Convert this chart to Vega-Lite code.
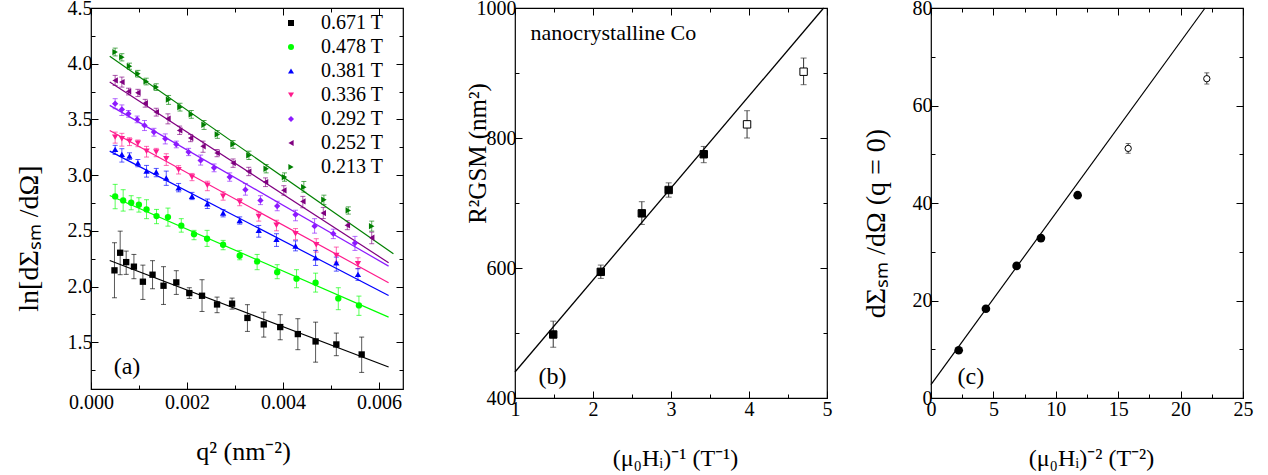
{
"$schema": "https://vega.github.io/schema/vega-lite/v6.json",
"padding": {"left": 14, "top": -3, "right": 0, "bottom": 0},
"background": "white",
"config": {
  "font": "Liberation Serif",
  "view": {"stroke": "black", "strokeWidth": 1.2},
  "axis": {"labelFont": "Liberation Serif", "titleFont": "Liberation Serif", "labelFontSize": 20, "titleFontSize": 24, "labelColor": "black", "titleColor": "black", "tickColor": "black", "grid": false, "domain": false, "titleFontWeight": "normal", "labelOverlap": false, "labelFlush": false, "tickWidth": 1},
  "legend": {"labelFont": "Liberation Serif", "labelFontSize": 20, "labelColor": "black", "padding": 0}
},
"datasets": {
  "apts": [
    {"s":"0.671 T","q":0.000489,"v":2.145,"lo":1.899,"hi":2.393},
    {"s":"0.671 T","q":0.000608,"v":2.303,"lo":2.106,"hi":2.497},
    {"s":"0.671 T","q":0.000733,"v":2.219,"lo":2.109,"hi":2.318},
    {"s":"0.671 T","q":0.000894,"v":2.178,"lo":2.070,"hi":2.288},
    {"s":"0.671 T","q":0.001081,"v":2.043,"lo":1.884,"hi":2.192},
    {"s":"0.671 T","q":0.001282,"v":2.106,"lo":1.980,"hi":2.232},
    {"s":"0.671 T","q":0.001511,"v":2.007,"lo":1.839,"hi":2.178},
    {"s":"0.671 T","q":0.001777,"v":2.037,"lo":1.929,"hi":2.142},
    {"s":"0.671 T","q":0.002048,"v":1.941,"lo":1.893,"hi":1.989},
    {"s":"0.671 T","q":0.002313,"v":1.917,"lo":1.776,"hi":2.061},
    {"s":"0.671 T","q":0.002626,"v":1.839,"lo":1.765,"hi":1.905},
    {"s":"0.671 T","q":0.002939,"v":1.846,"lo":1.797,"hi":1.896},
    {"s":"0.671 T","q":0.003259,"v":1.718,"lo":1.597,"hi":1.837},
    {"s":"0.671 T","q":0.003599,"v":1.660,"lo":1.546,"hi":1.770},
    {"s":"0.671 T","q":0.003942,"v":1.636,"lo":1.522,"hi":1.747},
    {"s":"0.671 T","q":0.004309,"v":1.573,"lo":1.433,"hi":1.711},
    {"s":"0.671 T","q":0.004679,"v":1.507,"lo":1.321,"hi":1.680},
    {"s":"0.671 T","q":0.005111,"v":1.480,"lo":1.379,"hi":1.582},
    {"s":"0.671 T","q":0.005639,"v":1.390,"lo":1.229,"hi":1.546},
    {"s":"0.478 T","q":0.000503,"v":2.809,"lo":2.698,"hi":2.917},
    {"s":"0.478 T","q":0.000670,"v":2.773,"lo":2.677,"hi":2.869},
    {"s":"0.478 T","q":0.000837,"v":2.752,"lo":2.689,"hi":2.815},
    {"s":"0.478 T","q":0.000998,"v":2.734,"lo":2.668,"hi":2.797},
    {"s":"0.478 T","q":0.001157,"v":2.692,"lo":2.609,"hi":2.779},
    {"s":"0.478 T","q":0.001365,"v":2.632,"lo":2.564,"hi":2.692},
    {"s":"0.478 T","q":0.001603,"v":2.623,"lo":2.542,"hi":2.704},
    {"s":"0.478 T","q":0.001881,"v":2.546,"lo":2.488,"hi":2.609},
    {"s":"0.478 T","q":0.002146,"v":2.470,"lo":2.420,"hi":2.504},
    {"s":"0.478 T","q":0.002418,"v":2.429,"lo":2.360,"hi":2.504},
    {"s":"0.478 T","q":0.002752,"v":2.375,"lo":2.330,"hi":2.414},
    {"s":"0.478 T","q":0.003098,"v":2.276,"lo":2.240,"hi":2.324},
    {"s":"0.478 T","q":0.003461,"v":2.225,"lo":2.151,"hi":2.288},
    {"s":"0.478 T","q":0.003879,"v":2.129,"lo":2.070,"hi":2.196},
    {"s":"0.478 T","q":0.004282,"v":2.070,"lo":1.989,"hi":2.151},
    {"s":"0.478 T","q":0.004679,"v":2.034,"lo":1.950,"hi":2.120},
    {"s":"0.478 T","q":0.005152,"v":1.893,"lo":1.792,"hi":1.989},
    {"s":"0.478 T","q":0.005582,"v":1.830,"lo":1.741,"hi":1.914},
    {"s":"0.381 T","q":0.000503,"v":3.231,"lo":3.186,"hi":3.267},
    {"s":"0.381 T","q":0.000643,"v":3.186,"lo":3.117,"hi":3.237},
    {"s":"0.381 T","q":0.000802,"v":3.171,"lo":3.140,"hi":3.200},
    {"s":"0.381 T","q":0.000977,"v":3.108,"lo":3.075,"hi":3.140},
    {"s":"0.381 T","q":0.001157,"v":3.036,"lo":2.982,"hi":3.087},
    {"s":"0.381 T","q":0.001359,"v":3.027,"lo":2.985,"hi":3.060},
    {"s":"0.381 T","q":0.001568,"v":2.973,"lo":2.908,"hi":3.036},
    {"s":"0.381 T","q":0.001825,"v":2.887,"lo":2.850,"hi":2.925},
    {"s":"0.381 T","q":0.002104,"v":2.811,"lo":2.780,"hi":2.845},
    {"s":"0.381 T","q":0.002424,"v":2.743,"lo":2.700,"hi":2.785},
    {"s":"0.381 T","q":0.002752,"v":2.659,"lo":2.625,"hi":2.690},
    {"s":"0.381 T","q":0.003098,"v":2.593,"lo":2.560,"hi":2.625},
    {"s":"0.381 T","q":0.003495,"v":2.504,"lo":2.443,"hi":2.548},
    {"s":"0.381 T","q":0.003864,"v":2.423,"lo":2.360,"hi":2.474},
    {"s":"0.381 T","q":0.004261,"v":2.363,"lo":2.320,"hi":2.410},
    {"s":"0.381 T","q":0.004679,"v":2.259,"lo":2.189,"hi":2.324},
    {"s":"0.381 T","q":0.005111,"v":2.214,"lo":2.138,"hi":2.264},
    {"s":"0.381 T","q":0.005562,"v":2.109,"lo":2.055,"hi":2.160},
    {"s":"0.336 T","q":0.000503,"v":3.341,"lo":3.287,"hi":3.386},
    {"s":"0.336 T","q":0.000643,"v":3.327,"lo":3.260,"hi":3.375},
    {"s":"0.336 T","q":0.000802,"v":3.303,"lo":3.265,"hi":3.335},
    {"s":"0.336 T","q":0.000977,"v":3.287,"lo":3.255,"hi":3.315},
    {"s":"0.336 T","q":0.001157,"v":3.215,"lo":3.162,"hi":3.258},
    {"s":"0.336 T","q":0.001359,"v":3.207,"lo":3.165,"hi":3.240},
    {"s":"0.336 T","q":0.001568,"v":3.147,"lo":3.087,"hi":3.192},
    {"s":"0.336 T","q":0.001825,"v":3.048,"lo":3.010,"hi":3.085},
    {"s":"0.336 T","q":0.002104,"v":2.982,"lo":2.950,"hi":3.015},
    {"s":"0.336 T","q":0.002424,"v":2.908,"lo":2.860,"hi":2.945},
    {"s":"0.336 T","q":0.002752,"v":2.811,"lo":2.775,"hi":2.850},
    {"s":"0.336 T","q":0.003098,"v":2.758,"lo":2.725,"hi":2.790},
    {"s":"0.336 T","q":0.003495,"v":2.629,"lo":2.587,"hi":2.668},
    {"s":"0.336 T","q":0.003864,"v":2.549,"lo":2.500,"hi":2.595},
    {"s":"0.336 T","q":0.004261,"v":2.474,"lo":2.420,"hi":2.520},
    {"s":"0.336 T","q":0.004693,"v":2.375,"lo":2.309,"hi":2.429},
    {"s":"0.336 T","q":0.005111,"v":2.279,"lo":2.219,"hi":2.354},
    {"s":"0.336 T","q":0.005562,"v":2.204,"lo":2.160,"hi":2.258},
    {"s":"0.292 T","q":0.000503,"v":3.641,"lo":3.596,"hi":3.686},
    {"s":"0.292 T","q":0.000643,"v":3.590,"lo":3.535,"hi":3.630},
    {"s":"0.292 T","q":0.000781,"v":3.551,"lo":3.520,"hi":3.580},
    {"s":"0.292 T","q":0.000962,"v":3.500,"lo":3.470,"hi":3.530},
    {"s":"0.292 T","q":0.001115,"v":3.446,"lo":3.400,"hi":3.490},
    {"s":"0.292 T","q":0.001311,"v":3.386,"lo":3.350,"hi":3.420},
    {"s":"0.292 T","q":0.001547,"v":3.327,"lo":3.280,"hi":3.370},
    {"s":"0.292 T","q":0.001777,"v":3.276,"lo":3.245,"hi":3.305},
    {"s":"0.292 T","q":0.002033,"v":3.207,"lo":3.175,"hi":3.240},
    {"s":"0.292 T","q":0.002284,"v":3.132,"lo":3.090,"hi":3.180},
    {"s":"0.292 T","q":0.002564,"v":3.066,"lo":3.030,"hi":3.100},
    {"s":"0.292 T","q":0.002889,"v":2.982,"lo":2.945,"hi":3.020},
    {"s":"0.292 T","q":0.003217,"v":2.869,"lo":2.820,"hi":2.925},
    {"s":"0.292 T","q":0.003530,"v":2.773,"lo":2.735,"hi":2.815},
    {"s":"0.292 T","q":0.003879,"v":2.722,"lo":2.680,"hi":2.765},
    {"s":"0.292 T","q":0.004261,"v":2.645,"lo":2.590,"hi":2.685},
    {"s":"0.292 T","q":0.004658,"v":2.542,"lo":2.479,"hi":2.609},
    {"s":"0.292 T","q":0.005048,"v":2.474,"lo":2.430,"hi":2.515},
    {"s":"0.292 T","q":0.005499,"v":2.390,"lo":2.324,"hi":2.450},
    {"s":"0.252 T","q":0.000503,"v":3.850,"lo":3.805,"hi":3.895},
    {"s":"0.252 T","q":0.000643,"v":3.835,"lo":3.790,"hi":3.880},
    {"s":"0.252 T","q":0.000781,"v":3.751,"lo":3.720,"hi":3.780},
    {"s":"0.252 T","q":0.000977,"v":3.739,"lo":3.705,"hi":3.770},
    {"s":"0.252 T","q":0.001129,"v":3.646,"lo":3.610,"hi":3.680},
    {"s":"0.252 T","q":0.001359,"v":3.566,"lo":3.530,"hi":3.600},
    {"s":"0.252 T","q":0.001603,"v":3.506,"lo":3.460,"hi":3.550},
    {"s":"0.252 T","q":0.001846,"v":3.401,"lo":3.365,"hi":3.440},
    {"s":"0.252 T","q":0.002075,"v":3.332,"lo":3.300,"hi":3.365},
    {"s":"0.252 T","q":0.002334,"v":3.258,"lo":3.205,"hi":3.305},
    {"s":"0.252 T","q":0.002626,"v":3.198,"lo":3.165,"hi":3.230},
    {"s":"0.252 T","q":0.002960,"v":3.108,"lo":3.070,"hi":3.145},
    {"s":"0.252 T","q":0.003286,"v":3.032,"lo":2.995,"hi":3.070},
    {"s":"0.252 T","q":0.003635,"v":2.937,"lo":2.897,"hi":2.975},
    {"s":"0.252 T","q":0.004017,"v":2.863,"lo":2.820,"hi":2.905},
    {"s":"0.252 T","q":0.004413,"v":2.764,"lo":2.707,"hi":2.809},
    {"s":"0.252 T","q":0.004839,"v":2.659,"lo":2.610,"hi":2.710},
    {"s":"0.252 T","q":0.005340,"v":2.549,"lo":2.510,"hi":2.590},
    {"s":"0.252 T","q":0.005848,"v":2.438,"lo":2.384,"hi":2.488},
    {"s":"0.213 T","q":0.000503,"v":4.104,"lo":4.070,"hi":4.140},
    {"s":"0.213 T","q":0.000643,"v":4.059,"lo":4.025,"hi":4.090},
    {"s":"0.213 T","q":0.000802,"v":3.978,"lo":3.950,"hi":4.005},
    {"s":"0.213 T","q":0.000977,"v":3.910,"lo":3.880,"hi":3.940},
    {"s":"0.213 T","q":0.001150,"v":3.841,"lo":3.810,"hi":3.870},
    {"s":"0.213 T","q":0.001359,"v":3.790,"lo":3.760,"hi":3.820},
    {"s":"0.213 T","q":0.001616,"v":3.677,"lo":3.635,"hi":3.715},
    {"s":"0.213 T","q":0.001854,"v":3.610,"lo":3.575,"hi":3.645},
    {"s":"0.213 T","q":0.002090,"v":3.545,"lo":3.510,"hi":3.580},
    {"s":"0.213 T","q":0.002355,"v":3.452,"lo":3.410,"hi":3.490},
    {"s":"0.213 T","q":0.002633,"v":3.365,"lo":3.330,"hi":3.400},
    {"s":"0.213 T","q":0.002960,"v":3.276,"lo":3.240,"hi":3.310},
    {"s":"0.213 T","q":0.003290,"v":3.177,"lo":3.140,"hi":3.215},
    {"s":"0.213 T","q":0.003649,"v":3.057,"lo":3.020,"hi":3.095},
    {"s":"0.213 T","q":0.004031,"v":2.982,"lo":2.945,"hi":3.020},
    {"s":"0.213 T","q":0.004434,"v":2.892,"lo":2.847,"hi":2.943},
    {"s":"0.213 T","q":0.004852,"v":2.779,"lo":2.735,"hi":2.820},
    {"s":"0.213 T","q":0.005361,"v":2.683,"lo":2.650,"hi":2.715},
    {"s":"0.213 T","q":0.005848,"v":2.542,"lo":2.497,"hi":2.587}
  ],
  "alines": [
    {"s":"0.671 T","q":0.00039,"v":2.234},{"s":"0.671 T","q":0.0062,"v":1.277},
    {"s":"0.478 T","q":0.00039,"v":2.817},{"s":"0.478 T","q":0.0062,"v":1.725},
    {"s":"0.381 T","q":0.00039,"v":3.215},{"s":"0.381 T","q":0.0062,"v":1.920},
    {"s":"0.336 T","q":0.00039,"v":3.401},{"s":"0.336 T","q":0.0062,"v":2.034},
    {"s":"0.292 T","q":0.00039,"v":3.626},{"s":"0.292 T","q":0.0062,"v":2.183},
    {"s":"0.252 T","q":0.00039,"v":3.835},{"s":"0.252 T","q":0.0062,"v":2.214},
    {"s":"0.213 T","q":0.00039,"v":4.066},{"s":"0.213 T","q":0.0063,"v":2.294}
  ],
  "bpts": [
    {"x":1.49,"y":497.7,"lo":478.1,"hi":518.2,"k":"filled"},
    {"x":2.10,"y":594.1,"lo":584.0,"hi":604.5,"k":"filled"},
    {"x":2.626,"y":684.1,"lo":667.0,"hi":702.0,"k":"filled"},
    {"x":2.97,"y":720.0,"lo":709.0,"hi":731.0,"k":"filled"},
    {"x":3.42,"y":775.0,"lo":762.0,"hi":787.0,"k":"filled"},
    {"x":3.975,"y":821.0,"lo":800.0,"hi":842.0,"k":"open"},
    {"x":4.70,"y":902.0,"lo":882.0,"hi":923.0,"k":"open"}
  ],
  "bline": [{"x":1.0,"y":440},{"x":4.957,"y":1000}],
  "cfill": [
    {"x":2.22,"y":9.8},
    {"x":4.40,"y":18.3},
    {"x":6.86,"y":27.1},
    {"x":8.81,"y":32.8},
    {"x":11.75,"y":41.6}
  ],
  "copen": [
    {"x":15.8,"y":51.2,"lo":50.2,"hi":52.2},
    {"x":22.1,"y":65.5,"lo":64.4,"hi":66.7}
  ],
  "cline": [{"x":0,"y":2.75},{"x":21.96,"y":80}]
},
"bounds": "flush",
"spacing": 112,
"hconcat": [
  {
    "width": 312, "height": 381,
    "resolve": {"axis": {"x": "independent", "y": "independent"}, "legend": {"color": "independent", "shape": "independent"}},
    "layer": [
      {
        "data": {"name": "apts"},
        "mark": {"type": "rule", "strokeWidth": 1, "opacity": 0.65},
        "encoding": {
          "x": {"field": "q", "type": "quantitative", "axis": null, "scale": {"domain": [0, 0.0065], "nice": false, "zero": false}},
          "y": {"field": "lo", "type": "quantitative", "axis": null, "scale": {"domain": [1.08, 4.5], "nice": false, "zero": false}},
          "y2": {"field": "hi"},
          "color": {"field": "s", "type": "nominal", "legend": null}
        }
      },
      {
        "data": {"name": "apts"},
        "mark": {"type": "tick", "orient": "horizontal", "size": 5, "thickness": 1, "opacity": 0.65},
        "encoding": {
          "x": {"field": "q", "type": "quantitative", "axis": null},
          "y": {"field": "lo", "type": "quantitative", "axis": null},
          "color": {"field": "s", "type": "nominal", "legend": null}
        }
      },
      {
        "data": {"name": "apts"},
        "mark": {"type": "tick", "orient": "horizontal", "size": 5, "thickness": 1, "opacity": 0.65},
        "encoding": {
          "x": {"field": "q", "type": "quantitative", "axis": null},
          "y": {"field": "hi", "type": "quantitative", "axis": null},
          "color": {"field": "s", "type": "nominal", "legend": null}
        }
      },
      {
        "data": {"name": "alines"},
        "mark": {"type": "line", "strokeWidth": 1.2},
        "encoding": {
          "x": {"field": "q", "type": "quantitative", "axis": {"orient": "top", "labels": false, "title": null, "values": [0,0.001,0.002,0.003,0.004,0.005,0.006], "tickSize": {"condition": {"test": "round(datum.value*1000)%2==0", "value": -7}, "value": -4}}},
          "y": {"field": "v", "type": "quantitative", "axis": {"orient": "right", "labels": false, "title": null, "values": [1.25,1.5,1.75,2,2.25,2.5,2.75,3,3.25,3.5,3.75,4,4.25,4.5], "tickSize": {"condition": {"test": "round(datum.value*4)%2==0", "value": -7}, "value": -4}}},
          "color": {"field": "s", "type": "nominal", "legend": null},
          "detail": {"field": "s"}
        }
      },
      {
        "data": {"name": "apts"},
        "mark": {"type": "point", "filled": true, "size": 40, "opacity": 1},
        "encoding": {
          "x": {"field": "q", "type": "quantitative", "axis": {"orient": "bottom", "title": "q² (nm⁻²)", "titleX": 152, "titleY": 62, "titleBaseline": "middle", "titleFontSize": 26, "values": [0,0.001,0.002,0.003,0.004,0.005,0.006], "labelExpr": "round(datum.value*1000)%2==0 ? format(datum.value,'.3f') : ''", "labelPadding": 10, "tickSize": {"condition": {"test": "round(datum.value*1000)%2==0", "value": -7}, "value": -4}}},
          "y": {"field": "v", "type": "quantitative", "axis": {"orient": "left", "title": "ln[dΣₛₘ /dΩ]", "titleX": -62, "titleY": 230, "titleBaseline": "middle", "titleFontSize": 28, "values": [1.25,1.5,1.75,2,2.25,2.5,2.75,3,3.25,3.5,3.75,4,4.25,4.5], "labelExpr": "round(datum.value*4)%2==0 ? format(datum.value,'.1f') : ''", "labelPadding": 6, "tickSize": {"condition": {"test": "round(datum.value*4)%2==0", "value": -7}, "value": -4}}},
          "color": {"field": "s", "type": "nominal", "scale": {"domain": ["0.671 T","0.478 T","0.381 T","0.336 T","0.292 T","0.252 T","0.213 T"], "range": ["#000000","#00ff00","#0000ff","#ff1a8c","#8c1aff","#800080","#008000"]}, "legend": {"title": null, "orient": "none", "legendX": 190, "legendY": 5, "symbolSize": 36, "labelOffset": 20, "rowPadding": 4}},
          "shape": {"field": "s", "type": "nominal", "scale": {"domain": ["0.671 T","0.478 T","0.381 T","0.336 T","0.292 T","0.252 T","0.213 T"], "range": ["square","circle","triangle-up","triangle-down","diamond","triangle-left","triangle-right"]}, "legend": {"title": null, "orient": "none", "legendX": 190, "legendY": 5, "symbolSize": 36, "labelOffset": 20, "rowPadding": 4}}
        }
      },
      {
        "data": {"values": [{"q": 0.00075, "v": 1.28, "t": "(a)"}]},
        "mark": {"type": "text", "fontSize": 24, "font": "Liberation Serif", "align": "center", "baseline": "middle", "color": "black"},
        "encoding": {
          "x": {"field": "q", "type": "quantitative", "axis": null},
          "y": {"field": "v", "type": "quantitative", "axis": null},
          "text": {"field": "t"}
        }
      }
    ]
  },
  {
    "bounds": "flush",
    "spacing": 104,
    "hconcat": [
      {
        "width": 312, "height": 390,
        "resolve": {"axis": {"x": "independent", "y": "independent"}},
        "layer": [
          {
            "data": {"name": "bpts"},
            "mark": {"type": "rule", "strokeWidth": 1, "color": "#333"},
            "encoding": {
              "x": {"field": "x", "type": "quantitative", "axis": null, "scale": {"domain": [1, 5], "nice": false, "zero": false}},
              "y": {"field": "lo", "type": "quantitative", "axis": null, "scale": {"domain": [400, 1000], "nice": false, "zero": false}},
              "y2": {"field": "hi"}
            }
          },
          {
            "data": {"name": "bpts"},
            "mark": {"type": "tick", "orient": "horizontal", "size": 6, "thickness": 1, "color": "#333"},
            "encoding": {
              "x": {"field": "x", "type": "quantitative", "axis": null},
              "y": {"field": "lo", "type": "quantitative", "axis": null}
            }
          },
          {
            "data": {"name": "bpts"},
            "mark": {"type": "tick", "orient": "horizontal", "size": 6, "thickness": 1, "color": "#333"},
            "encoding": {
              "x": {"field": "x", "type": "quantitative", "axis": null},
              "y": {"field": "hi", "type": "quantitative", "axis": null}
            }
          },
          {
            "data": {"name": "bline"},
            "mark": {"type": "line", "strokeWidth": 1.3, "color": "black"},
            "encoding": {
              "x": {"field": "x", "type": "quantitative", "axis": {"orient": "top", "labels": false, "title": null, "values": [1,1.5,2,2.5,3,3.5,4,4.5,5], "tickSize": {"condition": {"test": "round(datum.value*2)%2==0", "value": -7}, "value": -4}}},
              "y": {"field": "y", "type": "quantitative", "axis": {"orient": "right", "labels": false, "title": null, "values": [400,500,600,700,800,900,1000], "tickSize": {"condition": {"test": "datum.value%200==0", "value": -7}, "value": -4}}}
            }
          },
          {
            "data": {"name": "bpts"},
            "mark": {"type": "point", "shape": "square", "filled": true, "size": 55, "stroke": "black", "strokeWidth": 1, "opacity": 1},
            "encoding": {
              "x": {"field": "x", "type": "quantitative", "axis": {"orient": "bottom", "title": "(μ₀Hᵢ)⁻¹  (T⁻¹)", "titleX": 160, "titleY": 60, "titleBaseline": "middle", "values": [1,1.5,2,2.5,3,3.5,4,4.5,5], "labelExpr": "round(datum.value*2)%2==0 ? format(datum.value,'d') : ''", "labelPadding": 8, "tickSize": {"condition": {"test": "round(datum.value*2)%2==0", "value": -7}, "value": -4}}},
              "y": {"field": "y", "type": "quantitative", "axis": {"orient": "left", "title": "R²GSM  (nm²)", "titleX": -38, "titleY": 145, "titleBaseline": "middle", "titleFontSize": 25, "values": [400,500,600,700,800,900,1000], "labelExpr": "datum.value%200==0 ? format(datum.value,'d') : ''", "labelPadding": 6, "tickSize": {"condition": {"test": "datum.value%200==0", "value": -7}, "value": -4}}},
              "fill": {"field": "k", "type": "nominal", "scale": {"domain": ["filled","open"], "range": ["black","white"]}, "legend": null}
            }
          },
          {
            "data": {"values": [{"x": 1.2, "y": 961, "t": "nanocrystalline Co"}, {"x": 1.3, "y": 432, "t": "(b)"}]},
            "mark": {"type": "text", "fontSize": 22, "font": "Liberation Serif", "align": "left", "baseline": "middle", "color": "black"},
            "encoding": {
              "x": {"field": "x", "type": "quantitative", "axis": null},
              "y": {"field": "y", "type": "quantitative", "axis": null},
              "text": {"field": "t"},
              "size": {"field": "t", "type": "nominal", "scale": {"domain": ["nanocrystalline Co", "(b)"], "range": [22, 24]}, "legend": null}
            }
          }
        ]
      },
      {
        "width": 312, "height": 390,
        "resolve": {"axis": {"x": "independent", "y": "independent"}},
        "layer": [
          {
            "data": {"name": "copen"},
            "mark": {"type": "rule", "strokeWidth": 1, "color": "#333"},
            "encoding": {
              "x": {"field": "x", "type": "quantitative", "axis": null, "scale": {"domain": [0, 25], "nice": false, "zero": false}},
              "y": {"field": "lo", "type": "quantitative", "axis": null, "scale": {"domain": [0, 80], "nice": false, "zero": false}},
              "y2": {"field": "hi"}
            }
          },
          {
            "data": {"name": "copen"},
            "mark": {"type": "tick", "orient": "horizontal", "size": 5, "thickness": 1, "color": "#333"},
            "encoding": {
              "x": {"field": "x", "type": "quantitative", "axis": null},
              "y": {"field": "lo", "type": "quantitative", "axis": null}
            }
          },
          {
            "data": {"name": "copen"},
            "mark": {"type": "tick", "orient": "horizontal", "size": 5, "thickness": 1, "color": "#333"},
            "encoding": {
              "x": {"field": "x", "type": "quantitative", "axis": null},
              "y": {"field": "hi", "type": "quantitative", "axis": null}
            }
          },
          {
            "data": {"name": "cline"},
            "mark": {"type": "line", "strokeWidth": 1.2, "color": "black"},
            "encoding": {
              "x": {"field": "x", "type": "quantitative", "axis": {"orient": "top", "labels": false, "title": null, "values": [0,2.5,5,7.5,10,12.5,15,17.5,20,22.5,25], "tickSize": {"condition": {"test": "round(datum.value*2)%10==0", "value": -7}, "value": -4}}},
              "y": {"field": "y", "type": "quantitative", "axis": {"orient": "right", "labels": false, "title": null, "values": [0,10,20,30,40,50,60,70,80], "tickSize": {"condition": {"test": "datum.value%20==0", "value": -7}, "value": -4}}}
            }
          },
          {
            "data": {"name": "copen"},
            "mark": {"type": "point", "shape": "circle", "filled": true, "fill": "white", "stroke": "black", "strokeWidth": 1, "size": 40, "opacity": 1},
            "encoding": {
              "x": {"field": "x", "type": "quantitative", "axis": null},
              "y": {"field": "y", "type": "quantitative", "axis": null}
            }
          },
          {
            "data": {"name": "cfill"},
            "mark": {"type": "point", "shape": "circle", "filled": true, "color": "black", "size": 75, "opacity": 1},
            "encoding": {
              "x": {"field": "x", "type": "quantitative", "axis": {"orient": "bottom", "title": "(μ₀Hᵢ)⁻² (T⁻²)", "titleX": 160, "titleY": 60, "titleBaseline": "middle", "values": [0,2.5,5,7.5,10,12.5,15,17.5,20,22.5,25], "labelExpr": "round(datum.value*2)%10==0 ? format(datum.value,'d') : ''", "labelPadding": 8, "tickSize": {"condition": {"test": "round(datum.value*2)%10==0", "value": -7}, "value": -4}}},
              "y": {"field": "y", "type": "quantitative", "axis": {"orient": "left", "title": "dΣₛₘ /dΩ (q = 0)", "titleX": -55, "titleY": 215, "titleBaseline": "middle", "titleFontSize": 28, "values": [0,10,20,30,40,50,60,70,80], "labelExpr": "datum.value%20==0 ? format(datum.value,'d') : ''", "labelPadding": 6, "tickSize": {"condition": {"test": "datum.value%20==0", "value": -7}, "value": -4}}}
            }
          },
          {
            "data": {"values": [{"x": 3.2, "y": 4.3, "t": "(c)"}]},
            "mark": {"type": "text", "fontSize": 24, "font": "Liberation Serif", "align": "center", "baseline": "middle", "color": "black"},
            "encoding": {
              "x": {"field": "x", "type": "quantitative", "axis": null},
              "y": {"field": "y", "type": "quantitative", "axis": null},
              "text": {"field": "t"}
            }
          }
        ]
      }
    ]
  }
]
}
